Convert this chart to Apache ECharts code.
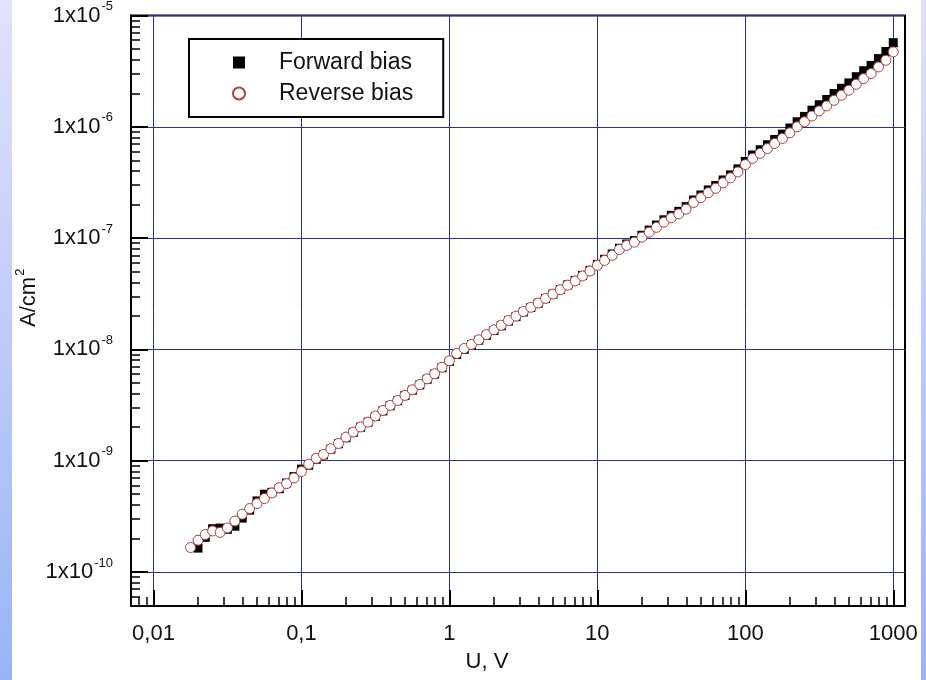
<!DOCTYPE html>
<html>
<head>
<meta charset="utf-8">
<title>Forward / reverse bias</title>
<script src="https://cdn.jsdelivr.net/npm/echarts@6/dist/echarts.min.js"></script>
<style>
    html, body { margin: 0; padding: 0; }
    body { width: 926px; height: 680px; position: relative; overflow: hidden;
           background: linear-gradient(to bottom, #e3e1fb, #97b5f6); }
    #paper { position: absolute; left: 12px; top: 0; width: 909px; height: 680px; background: #fff; }
    #main { position: absolute; left: 0; top: 0; width: 926px; height: 680px; }
</style>
</head>
<body>
<div id="paper"></div>
<div id="main"></div>
<script type="text/javascript">
    // voltage, V
    var voltage = [
        0.0178, 0.02, 0.0224, 0.0251, 0.0282, 0.0316, 0.0355, 0.0398, 0.0447, 0.0501,
        0.0562, 0.0631, 0.0708, 0.0794, 0.0891,
        0.1, 0.112, 0.126, 0.141, 0.158, 0.178, 0.2, 0.224, 0.251, 0.282,
        0.316, 0.355, 0.398, 0.447, 0.501, 0.562, 0.631, 0.708, 0.794, 0.891,
        1, 1.12, 1.26, 1.41, 1.58, 1.78, 2, 2.24, 2.51, 2.82,
        3.16, 3.55, 3.98, 4.47, 5.01, 5.62, 6.31, 7.08, 7.94, 8.91,
        10, 11.2, 12.6, 14.1, 15.8, 17.8, 20, 22.4, 25.1, 28.2,
        31.6, 35.5, 39.8, 44.7, 50.1, 56.2, 63.1, 70.8, 79.4, 89.1,
        100, 112, 126, 141, 158, 178, 200, 224, 251, 282,
        316, 355, 398, 447, 501, 562, 631, 708, 794, 891,
        1000
    ];
    // current density, A/cm2 (forward starts at the 2nd voltage)
    var forwardBias = [
        1.64e-10, 2.05e-10, 2.45e-10, 2.48e-10, 2.42e-10, 2.58e-10, 3.05e-10, 3.6e-10, 4.35e-10,
        5.0e-10, 5.2e-10, 5.6e-10, 6.3e-10, 7.2e-10,
        8.4e-10, 9.1e-10, 1.03e-9, 1.13e-9, 1.27e-9, 1.42e-9, 1.61e-9, 1.80e-9, 2.0e-9, 2.22e-9,
        2.5e-9, 2.8e-9, 3.12e-9, 3.46e-9, 3.85e-9, 4.3e-9, 4.8e-9, 5.4e-9, 6.0e-9, 6.85e-9,
        7.8e-9, 9.0e-9, 1.0e-8, 1.1e-8, 1.21e-8, 1.34e-8, 1.48e-8, 1.63e-8, 1.8e-8, 1.97e-8,
        2.17e-8, 2.38e-8, 2.6e-8, 2.86e-8, 3.14e-8, 3.45e-8, 3.8e-8, 4.16e-8, 4.62e-8, 5.13e-8,
        5.8e-8, 6.45e-8, 7.2e-8, 8.1e-8, 8.85e-8, 9.5e-8, 1.06e-7, 1.18e-7, 1.31e-7, 1.46e-7,
        1.6e-7, 1.74e-7, 1.92e-7, 2.2e-7, 2.44e-7, 2.71e-7, 2.97e-7, 3.33e-7, 3.7e-7, 4.19e-7,
        4.88e-7, 5.58e-7, 6.22e-7, 6.9e-7, 7.7e-7, 8.6e-7, 9.75e-7, 1.11e-6, 1.24e-6, 1.41e-6,
        1.58e-6, 1.76e-6, 1.99e-6, 2.22e-6, 2.48e-6, 2.82e-6, 3.19e-6, 3.56e-6, 4.1e-6, 4.75e-6,
        5.7e-6
    ];
    var reverseBias = [
        1.66e-10, 1.93e-10, 2.17e-10, 2.34e-10, 2.27e-10, 2.49e-10, 2.87e-10, 3.31e-10, 3.72e-10, 4.12e-10,
        4.57e-10, 5.13e-10, 5.73e-10, 6.22e-10, 7.0e-10,
        8.0e-10, 9.3e-10, 1.05e-9, 1.14e-9, 1.28e-9, 1.43e-9, 1.63e-9, 1.81e-9, 2.01e-9, 2.22e-9,
        2.52e-9, 2.83e-9, 3.14e-9, 3.48e-9, 3.86e-9, 4.34e-9, 4.84e-9, 5.44e-9, 6.04e-9, 6.92e-9,
        7.9e-9, 9.2e-9, 1.02e-8, 1.11e-8, 1.22e-8, 1.36e-8, 1.50e-8, 1.65e-8, 1.82e-8, 1.99e-8,
        2.19e-8, 2.39e-8, 2.61e-8, 2.87e-8, 3.14e-8, 3.44e-8, 3.78e-8, 4.12e-8, 4.57e-8, 5.06e-8,
        5.69e-8, 6.3e-8, 7.0e-8, 7.9e-8, 8.6e-8, 9.2e-8, 1.02e-7, 1.13e-7, 1.25e-7, 1.39e-7,
        1.52e-7, 1.65e-7, 1.82e-7, 2.09e-7, 2.31e-7, 2.56e-7, 2.80e-7, 3.14e-7, 3.48e-7, 3.93e-7,
        4.57e-7, 5.2e-7, 5.77e-7, 6.38e-7, 7.08e-7, 7.85e-7, 8.83e-7, 1.0e-6, 1.11e-6, 1.25e-6,
        1.39e-6, 1.54e-6, 1.73e-6, 1.92e-6, 2.13e-6, 2.41e-6, 2.71e-6, 3.01e-6, 3.45e-6, 3.96e-6,
        4.71e-6
    ];

    var xTickValues = [0.01, 0.1, 1, 10, 100, 1000];
    var xTickLabels = ['0,01', '0,1', '1', '10', '100', '1000'];
    var yTickValues = [1e-10, 1e-9, 1e-8, 1e-7, 1e-6, 1e-5];
    var yTickExponents = ['-10', '-9', '-8', '-7', '-6', '-5'];

    var xMin = 0.00705, xMax = 1200;
    var yMin = 4.95e-11, yMax = 1e-5;
    var font = 'Liberation Sans, Arial, sans-serif';
    var gridBlue = '#2c2c9a';

    // minor ticks at 2..9 of every decade
    function minorTicks(lo, hi) {
        var out = [];
        for (var e = Math.floor(Math.log10(lo)); e <= Math.ceil(Math.log10(hi)); e++) {
            for (var m = 2; m <= 9; m++) {
                var v = m * Math.pow(10, e);
                if (v > lo && v < hi) out.push(v);
            }
        }
        return out;
    }

    function pairs(xs, ys) {
        var off = xs.length - ys.length;
        return ys.map(function (y, i) { return [xs[i + off], y]; });
    }

    var myChart = echarts.init(document.getElementById('main'));

    var option = {
        animation: false,
        grid: {
            left: 131, top: 14, width: 774, height: 592,
            show: true, borderColor: '#000', borderWidth: 2
        },
        legend: {
            orient: 'vertical',
            left: 189, top: 39,
            padding: [12, 30, 12, 43],
            itemGap: 8,
            itemWidth: 12, itemHeight: 12,
            borderColor: '#000', borderWidth: 2,
            backgroundColor: '#fff',
            textStyle: { fontSize: 23, fontFamily: font, color: '#111', padding: [0, 0, 0, 29] },
            data: [
                { name: 'Forward bias', icon: 'rect' },
                { name: 'Reverse bias', icon: 'circle' }
            ]
        },
        xAxis: [
            {
                type: 'log', min: xMin, max: xMax, position: 'bottom',
                name: 'U, V', nameLocation: 'middle', nameGap: 45, nameMoveOverlap: false,
                nameTextStyle: { fontSize: 22, fontFamily: font, color: '#111', padding: [0, 62, 0, 0] },
                axisLine: { lineStyle: { color: '#000', width: 2 } },
                axisTick: { inside: true, length: 16, customValues: xTickValues, lineStyle: { color: '#000', width: 2 } },
                axisLabel: {
                    customValues: xTickValues, margin: 17,
                    fontSize: 22, fontFamily: font, color: '#111',
                    formatter: function (v) { return xTickLabels[Math.round(Math.log10(v)) + 2]; }
                },
                splitLine: { show: true, lineStyle: { color: gridBlue, width: 1 } }
            },
            {
                // minor ticks only
                type: 'log', min: xMin, max: xMax, position: 'bottom',
                axisLine: { show: false },
                axisTick: { inside: true, length: 9, customValues: minorTicks(xMin, xMax), lineStyle: { color: '#000', width: 1.5 } },
                axisLabel: { show: false },
                splitLine: { show: false }
            }
        ],
        yAxis: [
            {
                type: 'log', min: yMin, max: yMax, position: 'left',
                name: '{a|A/cm}{s|2}', nameLocation: 'middle', nameGap: 88, nameMoveOverlap: false,
                nameTextStyle: {
                    padding: [0, 0, 0, 26],
                    rich: {
                        a: { fontSize: 22, fontFamily: font, color: '#111' },
                        s: { fontSize: 13, fontFamily: font, color: '#111', padding: [0, 0, 16, 1] }
                    }
                },
                axisLine: { lineStyle: { color: '#000', width: 2 } },
                axisTick: { inside: true, length: 17, customValues: yTickValues, lineStyle: { color: '#000', width: 2 } },
                axisLabel: {
                    customValues: yTickValues, margin: 18,
                    formatter: function (v) {
                        return '{b|1x10}{s|' + yTickExponents[Math.round(Math.log10(v)) + 10] + '}';
                    },
                    rich: {
                        b: { fontSize: 22, fontFamily: font, color: '#111' },
                        s: { fontSize: 13, fontFamily: font, color: '#111', padding: [0, 0, 18, 1] }
                    }
                },
                splitLine: { show: true, lineStyle: { color: gridBlue, width: 1 } }
            },
            {
                // minor ticks only
                type: 'log', min: yMin, max: yMax, position: 'left',
                axisLine: { show: false },
                axisTick: { inside: true, length: 9, customValues: minorTicks(yMin, yMax), lineStyle: { color: '#000', width: 1.5 } },
                axisLabel: { show: false },
                splitLine: { show: false }
            }
        ],
        series: [
            {
                name: 'Forward bias', type: 'scatter',
                xAxisIndex: 0, yAxisIndex: 0,
                symbol: 'rect', symbolSize: 9,
                itemStyle: { color: '#000', opacity: 1 },
                data: pairs(voltage, forwardBias)
            },
            {
                name: 'Reverse bias', type: 'scatter',
                xAxisIndex: 0, yAxisIndex: 0,
                symbol: 'circle', symbolSize: 10,
                itemStyle: { color: '#fff', borderColor: '#a8413f', borderWidth: 1, opacity: 1 },
                data: pairs(voltage, reverseBias)
            }
        ]
    };

    myChart.setOption(option);
</script>
</body>
</html>
